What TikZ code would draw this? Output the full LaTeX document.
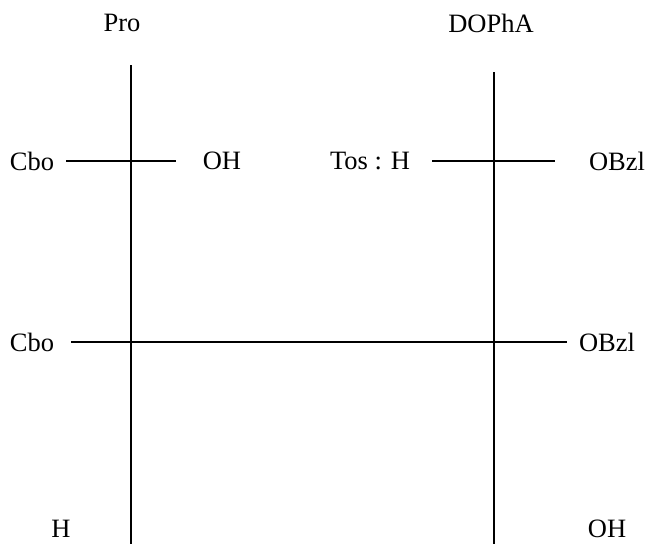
\documentclass[tikz,border=0pt]{standalone}
\usepackage{fontspec}
\setmainfont{Liberation Serif}
\begin{document}
\begin{tikzpicture}[x=1pt,y=-1pt]
    \tikzstyle{every node}+=[inner sep=0pt,font=\fontsize{26.5}{30}\selectfont]
    \tikzstyle{bond}=[black,line width=1.9pt]
    \useasboundingbox (0,0) rectangle (645,544);
    % column heads
    \node (pro) at (122,23) {Pro};
    \node (dopha) at (491,23) {DOPhA};
    % backbones
    \coordinate (protop) at (131,65);
    \coordinate (probot) at (131,544);
    \coordinate (doptop) at (494,72);
    \coordinate (dopbot) at (494,544);
    \draw [bond] (protop) -- (probot);
    \draw [bond] (doptop) -- (dopbot);
    % first row
    \node (cboa) at (32,161) {Cbo};
    \node (oha) at (222,161) {OH};
    \node (tosh) at (370,161) {Tos : H};
    \node (obzla) at (617,161) {OBzl};
    \coordinate (cboaend) at (66,161);
    \coordinate (ohaend) at (176,161);
    \coordinate (toshend) at (432,161);
    \coordinate (obzlaend) at (555,161);
    \draw [bond] (cboaend) -- (ohaend);
    \draw [bond] (toshend) -- (obzlaend);
    % second row
    \node (cbob) at (32,342) {Cbo};
    \node (obzlb) at (607,342) {OBzl};
    \coordinate (cbobend) at (71,342);
    \coordinate (obzlbend) at (567,342);
    \draw [bond] (cbobend) -- (obzlbend);
    % bottom
    \node (h) at (61,529) {H};
    \node (ohb) at (607,529) {OH};
\end{tikzpicture}
\end{document}
